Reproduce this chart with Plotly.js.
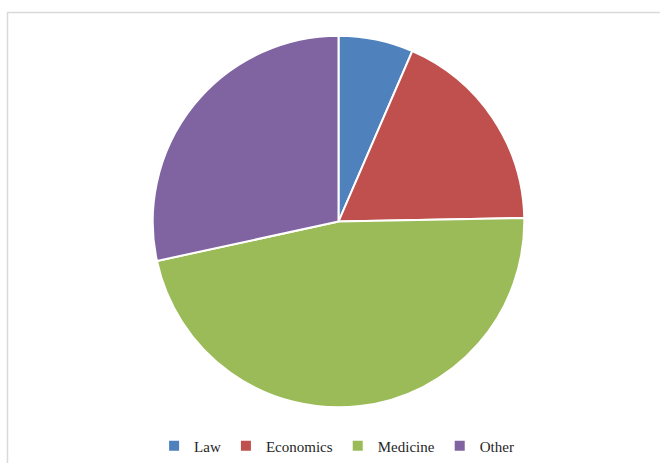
<!DOCTYPE html>
<html>
<head>
<meta charset="utf-8">
<script src="https://cdn.plot.ly/plotly-3.0.1.min.js"></script>
<style>html,body{margin:0;padding:0;background:#fff;}#chart{width:660px;height:463px;}</style>
</head>
<body>
<div id="chart"></div>
<script>
const categories = ["Law", "Economics", "Medicine", "Other"];
const values = [6.5, 18.2, 46.9, 28.4];
const colors = ["#4F81BD", "#C0504D", "#9BBB59", "#8064A2"];

const W = 660, H = 463;
const cx = 338.5, cy = 223, r = 187;

const trace = {
  type: "pie",
  labels: categories,
  values: values,
  sort: false,
  direction: "clockwise",
  rotation: 0,
  textinfo: "none",
  hoverinfo: "label+percent",
  marker: { colors: colors, line: { color: "#ffffff", width: 2 } },
  domain: {
    x: [(cx - r) / W, (cx + r) / W],
    y: [(H - cy - r) / H, (H - cy + r) / H]
  }
};

const layout = {
  width: W, height: H,
  margin: { l: 0, r: 0, t: 0, b: 0 },
  paper_bgcolor: "#ffffff",
  showlegend: true,
  legend: {
    orientation: "h",
    x: 0.51, xanchor: "center",
    y: (H - 449) / H, yanchor: "middle",
    font: { family: "Liberation Serif", size: 15, color: "#262626" },
    itemwidth: 30,
    tracegroupgap: 0
  },
  shapes: [{
    type: "rect", xref: "paper", yref: "paper",
    x0: 7.5 / W, x1: 1.05, y0: -0.05, y1: (H - 12.5) / H,
    line: { color: "#d9d9d9", width: 1.5 }, fillcolor: "rgba(0,0,0,0)", layer: "below"
  }]
};

Plotly.newPlot("chart", [trace], layout, { displayModeBar: false, staticPlot: true });
</script>
</body>
</html>
